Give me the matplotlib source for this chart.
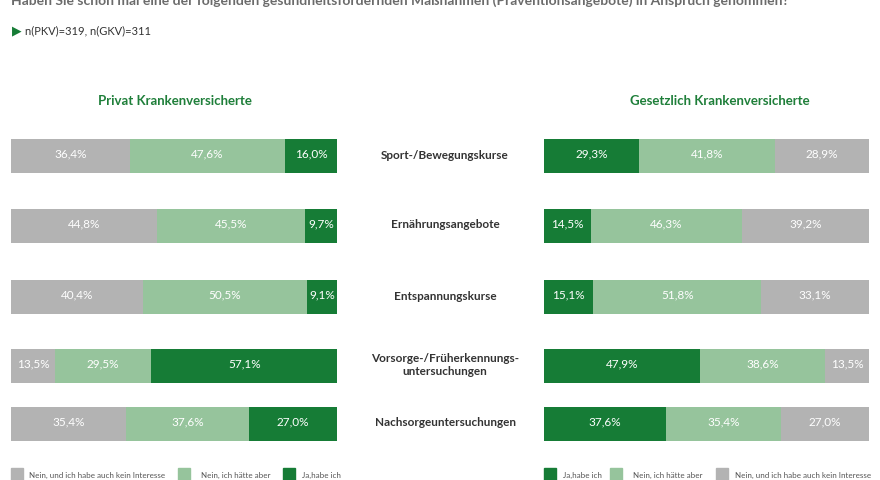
import matplotlib
matplotlib.use("Agg")
import matplotlib.pyplot as plt

plt.rcParams['font.family'] = ['Lato', 'DejaVu Sans']

# Data
categories = ["Sport-/Bewegungskurse", "Ernährungsangebote", "Entspannungskurse",
              "Vorsorge-/Früherkennungs-\nuntersuchungen", "Nachsorgeuntersuchungen"]
pkv_kein = [36.4, 44.8, 40.4, 13.5, 35.4]
pkv_haette = [47.6, 45.5, 50.5, 29.5, 37.6]
pkv_ja = [16.0, 9.7, 9.1, 57.1, 27.0]
gkv_ja = [29.3, 14.5, 15.1, 47.9, 37.6]
gkv_haette = [41.8, 46.3, 51.8, 38.6, 35.4]
gkv_kein = [28.9, 39.2, 33.1, 13.5, 27.0]

lbl_kein = "Nein, und ich habe auch kein Interesse"
lbl_haette = "Nein, ich hätte aber"
lbl_ja = "Ja,habe ich"

# Style
c_gray = "#b3b3b3"
c_light = "#96c49c"
c_dark = "#167c36"
c_title = "#1f7f3a"
row_y = [156, 226, 297, 366, 424]  # row centres in pixels from top
bar_h = 34


def fmt(v):
    return f"{v:.1f}%".replace(".", ",")


def draw_panel(ax, series, colors):
    left = [0] * len(row_y)
    for vals, col in zip(series, colors):
        ax.barh(row_y, vals, left=left, height=bar_h, color=col, edgecolor="none")
        for y, l, v in zip(row_y, left, vals):
            ax.text(l + v / 2, y - 2, fmt(v), ha="center", va="center",
                    color="white", fontsize=8.5)
        left = [a + b for a, b in zip(left, vals)]
    ax.set_xlim(0, 100)
    ax.set_ylim(441, 139)
    ax.axis("off")


fig = plt.figure(figsize=(8.8, 4.8), dpi=100)
W, H = 880, 480

ax_l = fig.add_axes([11 / W, 1 - 441 / H, 326 / W, 302 / H])
ax_r = fig.add_axes([544 / W, 1 - 441 / H, 325 / W, 302 / H])
draw_panel(ax_l, [pkv_kein, pkv_haette, pkv_ja], [c_gray, c_light, c_dark])
draw_panel(ax_r, [gkv_ja, gkv_haette, gkv_kein], [c_dark, c_light, c_gray])

# category labels in the middle
for y, cat in zip(row_y, categories):
    fig.text(445 / W, 1 - (y - 1) / H, cat, ha="center", va="center",
             fontsize=8.5, fontweight="bold", color="#333333", linespacing=1.3)

# panel titles
fig.text(175 / W, 1 - 101 / H, "Privat Krankenversicherte", ha="center", va="center",
         fontsize=9.5, fontweight="bold", color=c_title)
fig.text(720 / W, 1 - 101 / H, "Gesetzlich Krankenversicherte", ha="center", va="center",
         fontsize=9.5, fontweight="bold", color=c_title)

# question (cut off at the top) and sample size
fig.text(11 / W, 1 - 1 / H,
         "Haben Sie schon mal eine der folgenden gesundheitsfördernden Maßnahmen "
         "(Präventionsangebote) in Anspruch genommen?",
         ha="left", va="center", fontsize=10, fontweight="bold", color="#6b6b6b")
fig.text(12 / W, 1 - 31 / H, "\u25B6", ha="left", va="center", fontsize=9,
         color=c_dark, family="DejaVu Sans")
fig.text(25 / W, 1 - 31 / H, "n(PKV)=319, n(GKV)=311", ha="left", va="center",
         fontsize=8, color="#333333")


# legends
def legend_item(x_sq, x_txt, col, txt):
    fig.patches.append(plt.Rectangle((x_sq / W, 1 - 480 / H), 12 / W, 12 / H,
                                     transform=fig.transFigure, color=col))
    fig.text(x_txt / W, 1 - 475 / H, txt, ha="left", va="center",
             fontsize=5.8, color="#555555")


legend_item(11, 29, c_gray, lbl_kein)
legend_item(178, 201, c_light, lbl_haette)
legend_item(283, 302, c_dark, lbl_ja)
legend_item(544, 563, c_dark, lbl_ja)
legend_item(610, 633, c_light, lbl_haette)
legend_item(716, 735, c_gray, lbl_kein)

fig.savefig("out.png", dpi=100)
